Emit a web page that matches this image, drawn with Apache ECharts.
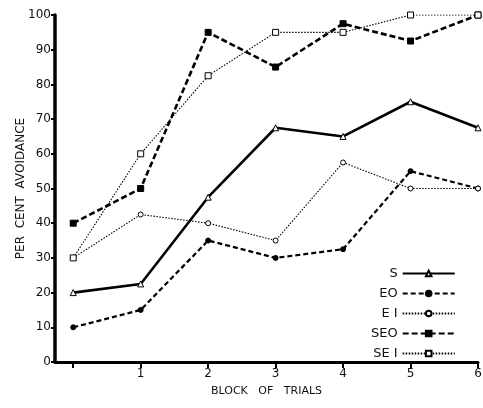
<!DOCTYPE html>
<html><head><meta charset="utf-8">
<script src="https://cdn.jsdelivr.net/npm/echarts@6/dist/echarts.min.js"></script>
<style>html,body{margin:0;padding:0;background:#fff}#c{width:483px;height:408px}</style>
</head><body><div id="c"></div>
<script>
const blocks = [0, 1, 2, 3, 4, 5, 6];
const xTickLabels = [1, 2, 3, 4, 5, 6];
const yTicks = [0, 10, 20, 30, 40, 50, 60, 70, 80, 90, 100];
const seriesNames = ['S', 'EO', 'E I', 'SEO', 'SE I'];
const S   = [20, 22.5, 47.5, 67.5, 65, 75, 67.5];
const EO  = [10, 15, 35, 30, 32.5, 55, 50];
const EI  = [30, 42.5, 40, 35, 57.5, 50, 50];
const SEO = [40, 50, 95, 85, 97.5, 92.5, 100];
const SEI = [30, 60, 82.5, 95, 95, 100, 100];

const pair = arr => blocks.map((b, i) => [b, arr[i]]);
const font = '"DejaVu Sans", sans-serif';
const styles = [
  {data: S,   symbol: 'triangle', size: 6, fill: '#fff', type: 'solid',  width: 2.6},
  {data: EO,  symbol: 'circle',   size: 5, fill: '#000', type: [5, 3],   width: 2.2},
  {data: EI,  symbol: 'circle',   size: 5, fill: '#fff', type: [1.5, 1.5], width: 1.1},
  {data: SEO, symbol: 'rect',     size: 6, fill: '#000', type: [6, 3],   width: 2.6},
  {data: SEI, symbol: 'rect',     size: 6, fill: '#fff', type: [1.5, 1.5], width: 1.1}
];
const chart = echarts.init(document.getElementById('c'), null, {renderer: 'canvas'});
chart.setOption({
  animation: false,
  backgroundColor: '#fff',
  grid: {left: 55, right: 5, top: 15, bottom: 46, containLabel: false, outerBoundsMode: 'none'},
  xAxis: {
    type: 'value', min: -0.27, max: 6,
    name: 'BLOCK   OF   TRIALS', nameLocation: 'middle', nameGap: 24,
    nameTextStyle: {fontFamily: font, fontSize: 11, color: '#111'},
    axisLine: {onZero: false, lineStyle: {color: '#000', width: 3}},
    axisTick: {show: true, length: 6, customValues: blocks, lineStyle: {color: '#000', width: 2}},
    axisLabel: {customValues: xTickLabels, fontFamily: font, fontSize: 12, color: '#111', margin: 6},
    splitLine: {show: false}
  },
  yAxis: {
    type: 'value', min: 0, max: 100, interval: 10,
    name: 'PER  CENT  AVOIDANCE', nameLocation: 'middle', nameGap: 28, nameRotate: 90,
    nameMoveOverlap: false,
    nameTextStyle: {fontFamily: font, fontSize: 12, color: '#111'},
    axisLine: {show: true, onZero: false, lineStyle: {color: '#000', width: 3.5}},
    axisTick: {show: true, length: 4, lineStyle: {color: '#000', width: 2}},
    axisLabel: {fontFamily: font, fontSize: 12, color: '#111', margin: 4,
      formatter: v => yTicks.includes(v) ? String(v) : ''},
    splitLine: {show: false}
  },
  legend: {
    orient: 'vertical', left: 366, top: 262, align: 'right',
    itemWidth: 52, itemHeight: 7, itemGap: 7,
    textStyle: {fontFamily: font, fontSize: 13, color: '#111'},
    data: seriesNames
  },
  series: styles.map((s, i) => ({
    name: seriesNames[i], type: 'line', data: pair(s.data),
    symbol: s.symbol, symbolSize: s.size, showSymbol: true,
    itemStyle: {color: s.fill, borderColor: '#000', borderWidth: 1},
    lineStyle: {color: '#000', width: s.width, type: s.type},
    z: 2 + i
  }))
});
</script></body></html>
